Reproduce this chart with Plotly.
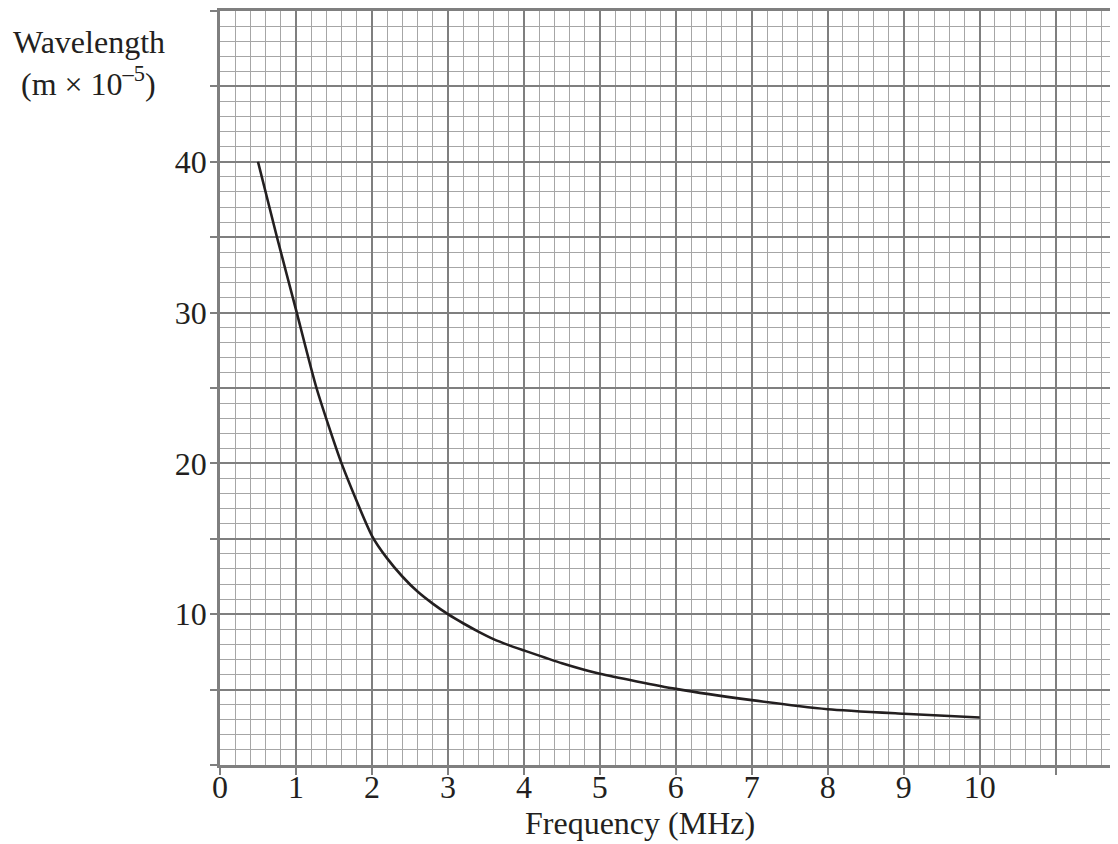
import plotly.graph_objects as go

# Data
frequency_mhz = [0.5, 0.75, 1.0, 1.27, 1.6, 2.0, 2.2, 2.4, 2.6, 2.8, 3.0, 3.2, 3.4, 3.6, 3.8, 4.0, 4.5, 5.0, 6.0, 7.0, 8.0, 9.0, 10.0]
wavelength = [40, 35, 30.2, 25, 20, 15.2, 13.7, 12.5, 11.5, 10.7, 10.0, 9.4, 8.85, 8.35, 7.95, 7.6, 6.75, 6.05, 5.05, 4.3, 3.7, 3.4, 3.15]

x_tickvals = [0, 1, 2, 3, 4, 5, 6, 7, 8, 9, 10, 11]
x_ticktext = ["0", "1", "2", "3", "4", "5", "6", "7", "8", "9", "10", ""]
y_tickvals = [0, 5, 10, 15, 20, 25, 30, 35, 40, 45, 50]
y_ticktext = ["", "", "10", "", "20", "", "30", "", "40", "", ""]

FONT = "Liberation Serif, Times New Roman, serif"
TXT = "#231f20"
MAJOR = "#7f7f7f"
MINOR = "#a6a6a6"
FS = 32

fig = go.Figure()
fig.add_trace(go.Scatter(
    x=frequency_mhz, y=wavelength, mode="lines",
    line=dict(color=TXT, width=2.6, shape="spline", smoothing=0.6),
    showlegend=False, hoverinfo="skip",
))

fig.update_layout(
    width=1110, height=836,
    margin=dict(l=212, r=0, t=1, b=79, pad=0),
    paper_bgcolor="white", plot_bgcolor="white",
    font=dict(family=FONT, size=FS, color=TXT),
    xaxis=dict(
        range=[0, 11.82], tickmode="array", tickvals=x_tickvals, ticktext=x_ticktext,
        showgrid=True, gridcolor=MAJOR, gridwidth=1.5,
        minor=dict(dtick=0.2, showgrid=True, gridcolor=MINOR, gridwidth=1.2, ticks=""),
        showline=True, linecolor=MAJOR, linewidth=2.5, mirror=True,
        ticks="outside", ticklen=7, tickwidth=1.5, tickcolor=MAJOR,
        zeroline=False, tickfont=dict(family=FONT, size=FS, color=TXT),
        ticklabelstandoff=-15,
    ),
    yaxis=dict(
        range=[0, 50], tickmode="array", tickvals=y_tickvals, ticktext=y_ticktext,
        showgrid=True, gridcolor=MAJOR, gridwidth=1.5,
        minor=dict(dtick=1, showgrid=True, gridcolor=MINOR, gridwidth=1.2, ticks=""),
        showline=True, linecolor=MAJOR, linewidth=2.5, mirror=False,
        ticks="outside", ticklen=7, tickwidth=1.5, tickcolor=MAJOR,
        zeroline=False, tickfont=dict(family=FONT, size=FS, color=TXT),
        ticklabelstandoff=-3,
    ),
    annotations=[
        dict(text="Wavelength<br>\u00a0(m × 10<sup>–5</sup>)", xref="paper", yref="paper",
             x=-0.233, y=1.0, xanchor="left", yanchor="top", yshift=-11, align="left",
             showarrow=False, font=dict(family=FONT, size=FS, color=TXT)),
        dict(text="Frequency (MHz)", xref="x", yref="paper", x=5.53, y=0,
             xanchor="center", yanchor="middle", yshift=-58, showarrow=False,
             font=dict(family=FONT, size=FS, color=TXT)),
    ],
)

fig.write_html("out.html")
